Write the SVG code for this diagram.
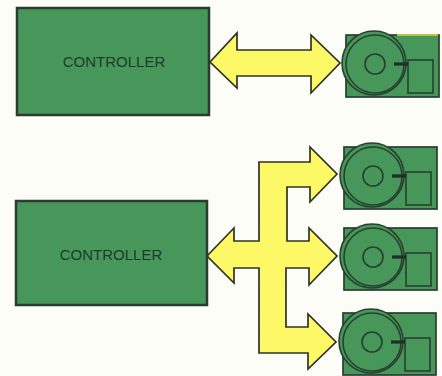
<svg xmlns="http://www.w3.org/2000/svg" width="442" height="376" viewBox="0 0 442 376">
<style>
.box{fill:#47975a;stroke:#2b3b30;stroke-width:2.5}
.body{fill:#47975a;stroke:#2b3b30;stroke-width:1.7}
.line{fill:none;stroke:#27402f;stroke-width:1.6}
.disc{fill:#47975a;stroke:#27402f;stroke-width:1.6}
.stub{stroke:#1f2e26;stroke-width:3.2;fill:none}
.bus{fill:#fdf865;stroke:#2e3226;stroke-width:1.7;stroke-linejoin:miter}
.label{font-family:"Liberation Sans",Arial,sans-serif;font-size:15px;fill:#1f3a2a;text-anchor:middle}
</style>
<defs>
<g id="drive">
<rect class="body" x="-28" y="-28" width="93" height="62"/>
<circle class="disc" cx="0" cy="0" r="32"/>
<circle class="line" cx="1" cy="1" r="29"/>
<circle class="line" cx="1" cy="1" r="10"/>
<rect class="line" x="34" y="-3" width="25" height="33"/>
<path class="stub" d="M20 1H34"/>
</g>
</defs>
<rect width="442" height="376" fill="#fdfdf8"/>
<g id="connectors">
<polygon class="bus" points="210,62 237,33 237,50 311,50 311,35 340,63 311,93 311,76 237,76 237,88"/>
<polygon class="bus" points="207,256 234,228 234,241 259,241 259,162 310,162 310,147 337,174 310,202 310,187 287,187 287,241 309,241 309,228 337,256 309,285 309,268 286,268 286,327 308,327 308,314 336,342 308,369 308,353 259,353 259,268 234,268 234,283"/>
</g>
<g id="controller-top">
<rect class="box" x="17" y="8" width="192" height="107"/>
<text class="label" x="114" y="66.5">CONTROLLER</text>
</g>
<g id="drive-top">
<use href="#drive" transform="translate(374,63)"/>
<path d="M397 35H438" stroke="#e8e44e" stroke-width="1.5" fill="none"/>
</g>
<g id="controller-bottom">
<rect class="box" x="16" y="201" width="191" height="104"/>
<text class="label" x="111" y="259.5">CONTROLLER</text>
</g>
<g id="drive-1"><use href="#drive" transform="translate(372,175)"/></g>
<g id="drive-2"><use href="#drive" transform="translate(372,256)"/></g>
<g id="drive-3"><use href="#drive" transform="translate(371,341)"/></g>
</svg>
